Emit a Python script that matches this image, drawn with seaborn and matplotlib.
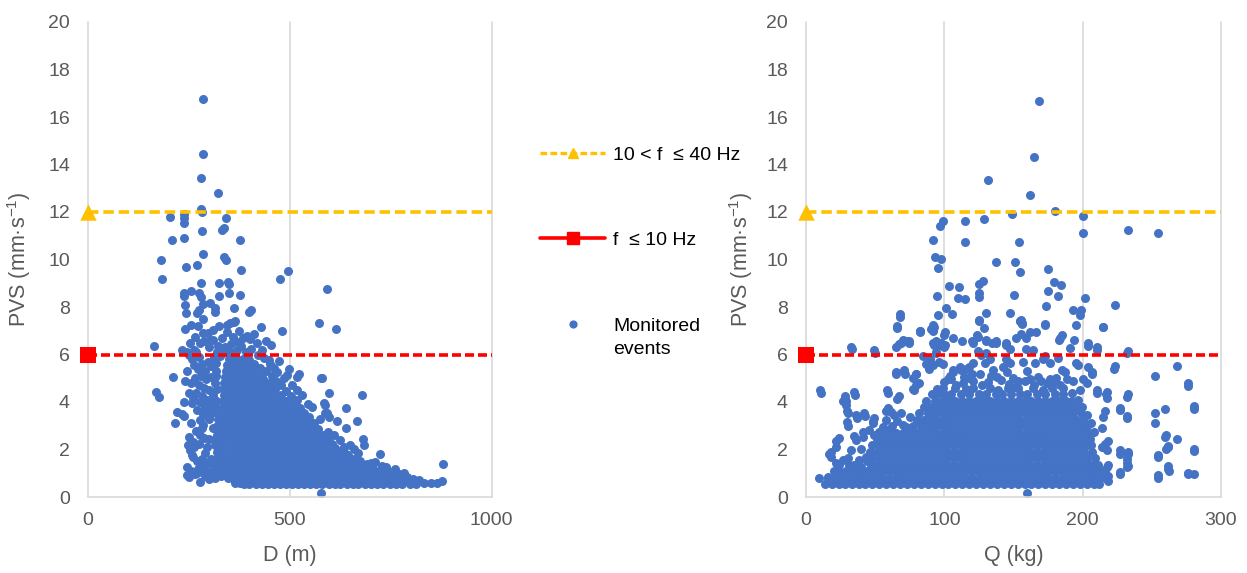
import matplotlib
matplotlib.use("Agg")
import matplotlib.pyplot as plt
from matplotlib.lines import Line2D
import numpy as np
import pandas as pd
import seaborn as sns

# ---------------------------------------------------------------------------
# Monitored blast events: distance D (m) and charge Q (kg) against PVS (mm/s)
# ---------------------------------------------------------------------------

# isolated events, distance panel (D, PVS)
dist_upper = [
    (286, 16.75), (285, 14.43), (281, 13.42), (323, 12.81), (281, 12.11), (282, 12.01),
    (204, 11.8), (239, 11.92), (239, 11.73), (239, 11.52), (343, 11.73), (332, 11.24),
    (336, 11.34), (282, 11.2), (208, 10.82), (238, 10.92), (376, 10.82), (286, 10.22),
    (336, 10.12), (342, 10.0), (181, 9.98), (243, 9.7), (270, 9.75), (380, 9.56),
    (496, 9.53), (183, 9.16), (475, 9.18), (280, 9.0), (324, 9.0), (347, 9.07),
    (350, 8.97), (591, 8.77), (256, 8.69), (239, 8.57), (239, 8.46), (276, 8.6),
    (281, 8.43), (349, 8.6), (377, 8.52), (324, 8.46), (286, 8.13), (303, 8.18),
    (240, 8.07), (315, 7.96), (315, 7.8), (362, 7.96), (274, 7.87), (270, 7.73),
    (243, 7.76), (399, 7.8), (405, 7.87), (571, 7.34), (615, 7.06), (429, 7.14),
    (481, 7.0), (286, 7.48), (256, 7.23), (273, 7.2), (324, 7.21), (344, 7.24),
    (352, 7.31), (361, 7.38), (241, 7.06), (365, 7.4), (286, 6.9), (394, 6.8),
    (164, 6.35), (253, 6.47), (278, 6.47), (303, 6.6), (332, 6.68), (371, 6.54),
    (402, 6.64), (419, 6.47), (453, 6.4), (245, 6.1), (262, 6.19), (319, 6.12),
    (352, 6.12),
]

dist_mid = [
    (452, 5.6), (472, 5.74), (497, 5.41), (420, 5.34), (468, 5.27), (493, 5.13),
    (518, 5.06), (522, 5.2), (577, 4.99), (210, 5.04), (169, 4.43), (175, 4.22),
    (518, 4.5), (518, 4.08), (555, 3.8), (584, 3.94), (592, 3.52), (220, 3.59),
    (237, 3.41), (216, 3.13), (257, 3.97), (270, 3.66), (290, 3.73), (299, 3.38),
    (278, 3.24), (282, 2.89), (278, 2.61), (249, 2.54), (261, 2.33), (295, 2.12),
    (252, 1.97), (261, 1.69), (278, 1.41), (286, 1.2), (303, 1.06), (245, 0.92),
    (249, 0.85), (278, 0.64), (319, 1.2), (348, 0.99), (361, 0.71), (377, 0.57),
    (402, 0.64), (578, 0.15),
    (250, 6.0), (258, 5.8), (268, 6.1), (276, 5.9), (262, 5.55), (272, 5.4),
    (283, 5.6), (290, 5.3), (297, 5.7), (305, 5.5), (312, 5.9), (318, 5.3),
    (280, 5.1), (293, 4.95), (305, 5.05), (315, 4.8), (265, 5.0), (255, 4.8),
    (274, 4.7), (287, 4.6), (300, 4.5), (310, 4.3), (320, 4.55), (268, 4.4),
    (282, 4.25), (295, 4.1), (305, 3.95), (318, 4.05), (260, 4.15), (290, 3.8),
    (312, 3.6), (300, 3.3), (322, 3.3), (285, 3.05), (310, 2.9), (320, 2.6),
    (300, 2.45), (315, 2.2), (290, 1.85), (305, 1.6), (320, 1.9), (312, 1.35),
    (296, 1.4), (283, 1.6), (270, 1.5), (258, 1.75), (262, 2.1), (275, 2.25),
    (288, 2.5), (268, 2.8), (255, 3.1), (285, 3.5), (298, 3.65), (278, 4.0),
    (300, 6.3), (288, 6.55), (310, 6.6), (322, 6.35), (328, 5.95), (298, 6.9),
    (310, 7.05), (266, 6.75), (233, 6.2), (244, 5.3), (240, 4.9), (250, 4.4),
    (238, 4.0), (232, 3.5), (247, 2.2), (244, 1.25), (255, 1.1), (265, 0.95),
    (272, 1.2), (290, 0.9), (300, 0.75), (315, 0.8), (330, 0.9), (325, 1.3),
    (270, 1.0), (340, 6.3), (355, 6.45), (368, 6.2), (380, 6.35), (392, 6.1),
    (405, 6.25), (420, 6.0), (435, 5.85), (448, 5.75), (430, 6.2), (385, 6.7),
    (360, 6.75), (345, 6.95), (375, 7.0), (410, 6.85), (440, 6.55), (398, 5.75),
    (412, 5.6), (425, 5.45), (440, 5.3), (455, 5.1), (465, 4.9), (478, 4.7),
    (490, 4.45), (502, 4.25), (512, 3.95), (525, 3.75), (535, 3.55), (548, 3.35),
    (560, 3.1), (570, 2.85), (582, 2.6), (595, 2.4), (605, 2.25), (618, 1.95),
    (630, 1.8), (645, 1.75), (660, 1.6), (675, 1.5), (690, 1.25), (705, 1.2),
    (720, 1.1), (735, 1.0), (752, 0.9), (770, 0.95), (790, 0.85), (805, 0.75),
    (820, 0.7), (760, 1.2), (700, 1.45), (668, 1.85), (625, 2.4), (610, 2.6),
    (575, 3.3), (545, 3.9), (530, 4.3), (505, 4.7), (485, 5.0), (460, 5.45),
    (470, 3.95), (365, 0.6), (372, 0.75), (318, 5.65), (316, 5.1), (314, 4.1),
    (317, 3.75), (319, 3.0), (316, 2.45), (318, 1.6), (322, 0.95), (336, 6.1),
    (362, 5.95), (395, 5.35), (433, 4.95), (447, 4.45), (462, 4.6), (488, 4.05),
    (499, 3.7), (514, 3.45), (528, 3.2), (541, 2.95), (556, 2.75), (563, 2.45),
    (592, 2.05), (603, 1.9), (618, 1.65), (650, 1.4), (663, 1.25), (680, 1.15),
    (697, 0.95), (715, 0.85), (728, 1.3), (745, 0.7), (758, 0.65), (776, 0.72),
]

dist_tail = [
    (580, 4.99), (597, 4.36), (678, 4.29), (588, 3.87), (588, 3.52), (597, 3.38),
    (640, 3.76), (616, 3.2), (667, 3.21), (640, 2.92), (594, 2.72), (681, 2.44),
    (683, 2.18), (634, 2.12), (650, 2.18), (659, 2.04), (723, 1.81), (712, 1.48),
    (690, 1.38), (750, 1.06), (783, 0.99), (789, 0.74), (812, 0.54), (832, 0.6),
    (849, 0.57), (865, 0.57), (878, 0.68), (880, 1.37), (762, 0.85), (774, 0.64),
    (737, 1.27), (741, 0.85),
]

# dense cluster of the distance panel: (PVS, [D, ...])
dist_core = [
    (0.55, [386, 400, 416, 431, 445, 461, 476, 490, 506, 521, 535, 551, 566, 580,
            596, 611, 625, 641, 656, 670, 686, 701, 716, 731, 747, 763, 779, 798]),
    (0.8, [346, 361, 377, 392, 408, 423, 438, 454, 469, 484, 500, 515, 530, 546,
           561, 576, 592, 607, 622, 638, 653, 668, 684, 699, 714, 731, 748, 766, 781]),
    (1.05, [336, 352, 368, 384, 399, 414, 430, 446, 461, 476, 492, 507, 522, 538,
            553, 569, 584, 599, 615, 630, 645, 661, 676, 691, 707, 723, 740]),
    (1.3, [331, 345, 361, 376, 391, 407, 422, 437, 453, 468, 484, 499, 514, 530,
           545, 561, 576, 591, 607, 622, 637, 653, 669, 686, 704]),
    (1.55, [329, 344, 360, 375, 390, 406, 421, 436, 452, 467, 483, 498, 513, 529,
            544, 560, 575, 590, 606, 621, 636, 651, 665]),
    (1.8, [326, 340, 355, 369, 384, 399, 414, 429, 444, 459, 474, 489, 504, 519,
           534, 549, 564, 579, 594, 609, 624, 640]),
    (2.05, [328, 347, 362, 377, 392, 407, 422, 437, 452, 467, 482, 497, 512, 527,
            542, 557, 572, 587, 600, 611]),
    (2.3, [330, 340, 355, 370, 385, 400, 415, 430, 445, 460, 475, 490, 505, 520,
           535, 550, 565, 580, 594]),
    (2.55, [331, 347, 362, 377, 392, 407, 422, 437, 452, 467, 482, 497, 512, 527,
            542, 557, 570, 580]),
    (2.8, [330, 340, 355, 370, 385, 400, 415, 430, 445, 460, 475, 490, 505, 520,
           535, 550, 567]),
    (3.05, [331, 347, 362, 377, 392, 407, 422, 437, 452, 467, 482, 497, 512, 527,
            541, 555]),
    (3.3, [332, 340, 355, 370, 385, 400, 415, 430, 445, 460, 475, 490, 505, 520, 539]),
    (3.55, [333, 347, 362, 377, 392, 407, 422, 437, 452, 467, 482, 497, 511, 524]),
    (3.8, [334, 340, 355, 370, 385, 400, 415, 430, 445, 460, 475, 490, 509]),
    (4.05, [335, 348, 363, 378, 393, 408, 423, 438, 453, 468, 482, 494]),
    (4.3, [336, 341, 356, 371, 386, 401, 416, 431, 446, 461, 479]),
    (4.55, [337, 349, 364, 379, 394, 409, 424, 439, 452, 464]),
    (4.8, [338, 343, 358, 373, 388, 403, 418, 433, 449]),
    (5.05, [340, 351, 366, 381, 396, 411, 428]),
    (5.3, [342, 358, 373, 388, 403, 414]),
    (5.55, [345, 360, 375, 390, 399]),
    (5.8, [350, 367, 384]),
]

# isolated events, charge panel (Q, PVS)
charge_upper = [
    (168.2, 16.66), (165.1, 14.33), (131.8, 13.35), (162.1, 12.73), (148.7, 11.92),
    (180.0, 12.03), (200.0, 11.83), (200.0, 11.13), (232.6, 11.23), (254.5, 11.13),
    (99.0, 11.63), (96.6, 11.42), (114.7, 11.63), (128.9, 11.7), (92.1, 10.82),
    (115.2, 10.72), (154.0, 10.72), (93.5, 10.12), (97.6, 10.02), (95.4, 9.66),
    (137.6, 9.91), (151.1, 9.89), (154.9, 9.46), (175.2, 9.58), (179.0, 9.07),
    (184.1, 8.91), (103.6, 8.9), (110.4, 8.86), (125.1, 8.97), (127.7, 9.08),
    (125.1, 8.6), (125.1, 8.42), (175.2, 8.67), (181.9, 8.45), (150.2, 8.5),
    (94.5, 8.48), (110.2, 8.36), (115.2, 8.32), (201.5, 8.36), (223.2, 8.08),
    (101.5, 7.96), (105.3, 7.69), (95.4, 7.65), (67.7, 7.59), (173.5, 8.03),
    (192.8, 7.86), (199.1, 7.86), (198.1, 7.68), (147.2, 7.76), (129.9, 7.76),
    (125.1, 7.4), (154.9, 7.4), (156.1, 7.27), (172.5, 7.26), (195.2, 7.24),
    (214.7, 7.14), (66.0, 7.13), (82.2, 7.0), (92.3, 7.14), (128.4, 7.1),
]

charge_mid = [
    (10.9, 4.39), (33.0, 6.23), (50.1, 6.07), (65.1, 5.18), (71.5, 5.2), (59.1, 4.39),
    (28.9, 3.87), (30.1, 3.52), (28.5, 4.12), (35.2, 4.29), (36.7, 3.31), (42.9, 3.41),
    (30.3, 3.01), (21.7, 2.12), (18.1, 1.69), (9.7, 0.82), (15.7, 0.85), (67.5, 6.44),
    (72.3, 6.58), (74.7, 6.47), (82.7, 6.93), (91.6, 7.0), (100.0, 6.82), (92.8, 6.4),
    (97.6, 6.5), (100.0, 6.3), (94.0, 6.05), (96.4, 5.7), (120.5, 6.47), (124.1, 6.72),
    (130.1, 6.58), (137.3, 6.47), (144.5, 6.4), (125.3, 7.45), (79.5, 5.18), (81.9, 4.78),
    (78.3, 4.5), (86.7, 5.62), (89.1, 5.41), (98.8, 5.62), (106.0, 5.34), (112.0, 5.34),
    (118.1, 5.48), (114.5, 5.06), (59.1, 3.73), (63.8, 3.45), (57.8, 3.24), (55.4, 2.96),
    (60.3, 2.82), (48.2, 3.1), (45.7, 2.82), (49.4, 2.61), (41.0, 2.54), (36.2, 2.4),
    (39.7, 2.04), (43.4, 1.69), (38.5, 1.55), (32.5, 1.97),
    (106.2, 6.7), (113.0, 6.55), (120.0, 6.55), (123.6, 6.81), (130.0, 6.63),
    (134.5, 6.48), (137.0, 6.58), (124.3, 6.13), (126.7, 6.0), (130.4, 6.06),
    (132.8, 5.79), (120.7, 5.64), (129.1, 5.64), (135.2, 5.33), (125.5, 5.18),
    (106.2, 5.25), (111.0, 5.48), (115.9, 5.4), (105.0, 4.95), (108.6, 4.72),
    (142.4, 5.48), (144.8, 5.79), (147.3, 5.64), (149.7, 5.02), (153.3, 4.87),
    (144.8, 6.48), (147.3, 6.25), (152.0, 6.7), (155.7, 6.86), (159.3, 6.7),
    (161.7, 6.94), (155.7, 7.47), (155.0, 7.4), (166.6, 6.94), (159.3, 6.25),
    (164.2, 6.17), (165.4, 5.64), (171.4, 5.79), (172.6, 5.94), (176.2, 5.64),
    (170.2, 4.87), (176.2, 4.95), (181.0, 5.02), (183.5, 4.72), (182.3, 5.87),
    (184.7, 5.33), (187.1, 5.25), (193.1, 4.87), (195.5, 5.64), (200.4, 4.95),
    (202.8, 4.79), (198.0, 4.49), (204.0, 6.48), (210.0, 6.32), (206.4, 5.25),
    (210.0, 4.49), (10.4, 4.49), (32.6, 6.32), (49.5, 6.17), (65.9, 7.2),
    (67.6, 7.7), (65.2, 6.32), (68.8, 6.48), (70.0, 6.6), (74.8, 6.55),
    (64.7, 5.25), (71.2, 5.33), (58.7, 4.49), (66.9, 4.26), (65.7, 4.13),
    (82.1, 7.01), (84.5, 5.94), (90.5, 7.09), (91.7, 7.24), (100.2, 6.94),
    (91.7, 6.48), (94.1, 6.55), (96.6, 6.4), (100.2, 6.4), (94.1, 6.1),
    (89.3, 5.79), (91.7, 5.56), (79.7, 5.18), (77.2, 5.02), (79.7, 4.72),
    (77.7, 4.56), (28.5, 4.26), (29.0, 4.03), (29.5, 3.64), (26.6, 4.03),
    (35.0, 4.44), (36.2, 3.46), (42.2, 3.54), (29.7, 3.14), (41.0, 2.73),
    (35.0, 2.57), (24.1, 2.5), (21.7, 2.34), (18.1, 1.88), (16.9, 1.81),
    (48.3, 3.19), (49.5, 3.34), (57.9, 3.64), (61.6, 3.57), (35.0, 1.35),
    (40.0, 1.25), (44.0, 1.5), (37.0, 1.1), (27.0, 1.55), (22.0, 1.45),
    (70.0, 3.05), (66.0, 3.2), (72.0, 2.95), (104.0, 5.1), (118.0, 5.0),
    (138.0, 5.05), (160.0, 5.3), (168.0, 5.05), (189.0, 4.95), (157.0, 5.7),
    (99.5, 4.85), (113.5, 4.78), (121.0, 4.9), (131.5, 4.83), (141.0, 4.92),
    (147.0, 4.75), (158.5, 4.88), (165.0, 4.7), (174.0, 4.78), (186.0, 4.6),
    (192.0, 4.4), (196.5, 4.1), (199.5, 3.8), (203.0, 3.45), (206.0, 3.1),
    (208.0, 2.75), (75.0, 3.35), (69.0, 3.55), (62.0, 3.0), (53.0, 2.75),
    (103.0, 4.98), (116.0, 4.55), (127.0, 4.72), (139.0, 4.5), (151.0, 4.62),
    (162.0, 4.95), (171.0, 4.5), (179.0, 4.85), (95.0, 4.55), (134.0, 5.1),
    (145.0, 5.25), (120.0, 5.2),
]

charge_edge = [
    (215.0, 7.17), (172.8, 7.28), (155.9, 7.31), (184.8, 6.82), (183.7, 6.68),
    (183.2, 6.61), (204.1, 6.35), (210.1, 6.21), (232.4, 6.07), (193.7, 6.61),
    (190.9, 6.26), (196.9, 5.55), (204.1, 5.48), (207.0, 5.18), (222.9, 5.4),
    (252.3, 5.09), (268.4, 5.51), (275.9, 4.67), (210.1, 4.39), (216.9, 4.33),
    (217.8, 4.15), (232.4, 4.22), (252.3, 3.55), (259.5, 3.7), (280.8, 3.72),
    (227.0, 3.66), (231.9, 3.41), (232.4, 3.31), (252.3, 3.1), (216.2, 3.63),
    (215.0, 3.38), (214.3, 2.89), (259.5, 2.51), (268.4, 2.44), (260.2, 2.04),
    (262.0, 2.09), (280.8, 1.93), (254.7, 1.67), (227.0, 1.83), (233.1, 1.79),
    (231.9, 1.44), (232.4, 1.27), (227.0, 0.96), (262.0, 1.2), (262.4, 1.1),
    (254.7, 0.82), (275.9, 1.02), (276.4, 0.96), (280.8, 0.95), (218.1, 0.68),
    (210.1, 0.61), (205.3, 0.81), (216.2, 1.06), (217.8, 1.27), (216.2, 2.23),
    (214.3, 2.12), (217.8, 2.0), (160.0, 0.15), (217.3, 4.41), (223.3, 5.51),
    (232.5, 6.14), (232.5, 4.32), (227.0, 3.75), (276.4, 4.78), (280.5, 3.83),
    (260.0, 2.63), (261.5, 2.14), (254.7, 1.78), (262.0, 1.3), (254.7, 0.93),
    (280.5, 2.04), (227.0, 1.96), (227.0, 1.07), (232.7, 1.91), (232.2, 1.58),
    (232.7, 1.3), (218.0, 2.34), (218.5, 1.35), (218.0, 0.89), (210.0, 0.74),
    (208.8, 1.19),
]

# dense cluster of the charge panel: (PVS, [Q, ...])
charge_core = [
    (0.55, [14, 19, 24, 28, 33, 38, 43, 48, 53, 58, 63, 68, 73, 78, 83, 88, 93, 98,
            103, 108, 113, 118, 123, 128, 133, 138, 143, 148, 153, 158, 163, 168,
            173, 178, 183, 188, 193, 198, 203, 208, 212]),
    (0.82, [16, 21, 26, 31, 36, 41, 46, 51, 56, 61, 66, 71, 76, 81, 86, 91, 96, 101,
            106, 111, 116, 121, 126, 131, 136, 141, 146, 151, 156, 161, 166, 171,
            176, 181, 186, 191, 196, 201, 206, 211, 216]),
    (1.09, [20, 24, 29, 34, 39, 44, 49, 54, 59, 64, 69, 74, 79, 84, 89, 94, 99, 104,
            109, 114, 119, 124, 129, 134, 139, 144, 149, 154, 159, 164, 169, 174,
            179, 184, 189, 194, 199, 204, 209, 214]),
    (1.36, [24, 31, 47, 51, 56, 61, 66, 71, 76, 81, 86, 91, 96, 101, 106, 111, 116,
            121, 126, 131, 136, 141, 146, 151, 156, 161, 166, 171, 176, 181, 186,
            191, 196, 201, 206, 211]),
    (1.63, [30, 48, 53, 58, 63, 68, 73, 78, 83, 88, 93, 98, 103, 108, 113, 118, 123,
            128, 133, 138, 143, 148, 153, 158, 163, 168, 173, 178, 183, 188, 193,
            198, 203, 209]),
    (1.9, [46, 51, 56, 61, 66, 71, 76, 81, 86, 91, 96, 101, 106, 111, 116, 121, 126,
           131, 136, 141, 146, 151, 156, 161, 166, 171, 176, 181, 186, 191, 196,
           201, 207]),
    (2.17, [48, 53, 58, 63, 68, 73, 78, 83, 88, 93, 98, 103, 108, 113, 118, 123, 128,
            133, 138, 143, 148, 153, 158, 163, 168, 173, 178, 183, 188, 193, 198,
            203, 206]),
    (2.44, [51, 56, 61, 66, 71, 76, 81, 86, 91, 96, 101, 106, 111, 116, 121, 126, 131,
            136, 141, 146, 151, 156, 161, 166, 171, 176, 181, 186, 191, 196, 201, 205]),
    (2.71, [55, 60, 65, 70, 75, 80, 85, 90, 95, 100, 105, 110, 115, 120, 125, 130, 135,
            140, 145, 150, 155, 160, 165, 170, 175, 180, 185, 190, 195, 200, 204]),
    (2.98, [77, 83, 88, 93, 98, 103, 108, 113, 118, 123, 128, 133, 138, 143, 148, 153,
            158, 163, 168, 173, 178, 183, 188, 193, 198, 203]),
    (3.25, [80, 85, 90, 95, 100, 105, 110, 115, 120, 125, 130, 135, 140, 145, 150, 155,
            160, 165, 170, 175, 180, 185, 190, 195, 200]),
    (3.52, [82, 88, 93, 98, 103, 108, 113, 118, 123, 128, 133, 138, 143, 148, 153, 158,
            163, 168, 173, 178, 183, 188, 193, 199]),
    (3.79, [85, 90, 95, 100, 105, 110, 115, 120, 125, 130, 135, 140, 145, 150, 155, 160,
            165, 170, 175, 180, 185, 190, 196]),
    (4.06, [87, 93, 98, 103, 108, 113, 118, 123, 128, 133, 138, 143, 148, 153, 158, 163,
            168, 173, 178, 183, 188, 192]),
    (4.33, [91, 95, 100, 105, 112, 118, 125, 130, 137, 142, 148, 155, 160, 167, 173,
            180, 186]),
    (4.6, [99, 108, 121, 133, 146, 153, 164, 178]),
]

# vibration limits
limit_values = [12, 6]
limit_labels = ["10 < f  \u2264 40 Hz", "f  \u2264 10 Hz"]
limit_colors = ["#FFC000", "#FF0000"]
limit_markers = ["^", "s"]
limit_dashes = [(2.9, 1.35), (2.5, 1.1)]

y_ticks = list(range(0, 21, 2))
d_ticks = [0, 500, 1000]
q_ticks = [0, 100, 200, 300]

POINT_BLUE = "#4472C4"
GRID_GREY = "#D9D9D9"
TEXT_GREY = "#595959"


def to_frame(xname, pairs, rows):
    xs = [p[0] for p in pairs] + [x for pv, row in rows for x in row]
    ys = [p[1] for p in pairs] + [pv for pv, row in rows for _ in row]
    return pd.DataFrame({xname: xs, "PVS": ys})


dist_df = to_frame("D", dist_upper + dist_mid + dist_tail, dist_core)
charge_df = to_frame("Q", charge_upper + charge_mid + charge_edge, charge_core)

sns.set_theme(style="white")
plt.rcParams["font.family"] = ["Liberation Sans", "DejaVu Sans"]
plt.rcParams["mathtext.default"] = "regular"

W, H = 1247, 573
fig = plt.figure(figsize=(W / 100, H / 100), dpi=100)
ax_d = fig.add_axes([88 / W, 76 / H, 403.7 / W, 475 / H])
ax_q = fig.add_axes([806 / W, 76 / H, 415 / W, 475 / H])


def draw_panel(ax, df, xcol, xticks, xlabel, ylab_x):
    xmax = xticks[-1]
    ax.set_axisbelow(True)
    sns.scatterplot(data=df, x=xcol, y="PVS", ax=ax, color=POINT_BLUE, s=42,
                    linewidth=0, alpha=1, zorder=2, legend=False)
    for val, col, mk, dsh in zip(limit_values, limit_colors, limit_markers, limit_dashes):
        sns.lineplot(x=[0, xmax], y=[val, val], ax=ax, color=col, lw=2.6,
                     zorder=3, legend=False)
        ax.lines[-1].set_dashes(dsh)
        ax.lines[-1].set_clip_on(False)
        sns.scatterplot(x=[0], y=[val], ax=ax, marker=mk, s=140, color=col,
                        linewidth=0, zorder=4, clip_on=False, legend=False)
    ax.set_xlim(0, xmax)
    ax.set_ylim(0, 20)
    ax.set_xticks(xticks)
    ax.set_yticks(y_ticks)
    ax.grid(axis="x", color=GRID_GREY, lw=1.2)
    ax.grid(axis="y", visible=False)
    for gl in ax.get_xgridlines():
        gl.set_clip_on(False)
    for side in ["left", "top", "right"]:
        ax.spines[side].set_visible(False)
    ax.spines["bottom"].set_color(GRID_GREY)
    ax.spines["bottom"].set_linewidth(1.2)
    ax.tick_params(axis="both", length=0, labelsize=14, labelcolor=TEXT_GREY)
    ax.tick_params(axis="y", pad=13)
    ax.tick_params(axis="x", pad=10.5)
    ax.set_xlabel(xlabel, fontsize=15.5, color=TEXT_GREY)
    ax.set_ylabel("PVS (mm\u00b7s$^{-1}$)", fontsize=15.5, color=TEXT_GREY)
    ax.xaxis.set_label_coords(0.5, -0.1)
    ax.yaxis.set_label_coords(ylab_x, 0.5)


draw_panel(ax_d, dist_df, "D", d_ticks, "D (m)", -0.136)
draw_panel(ax_q, charge_df, "Q", q_ticks, "Q (kg)", -0.123)

# legend entries placed in the gap between the panels
legend_handles = [
    Line2D([], [], color=limit_colors[0], lw=2.4, dashes=(2.0, 1.0),
           marker="^", markersize=7.5),
    Line2D([], [], color=limit_colors[1], lw=2.6, marker="s", markersize=8.4),
    Line2D([], [], color=POINT_BLUE, ls="none", marker="o", markersize=4.9),
]
legend_texts = limit_labels + ["Monitored"]
legend_y = [155, 240, 326]
for hnd, txt, yy in zip(legend_handles, legend_texts, legend_y):
    fig.legend(handles=[hnd], labels=[txt], loc="center left",
               bbox_to_anchor=(540 / W, 1 - yy / H), frameon=False,
               fontsize=14, handlelength=3.35, handletextpad=0.41,
               borderpad=0, borderaxespad=0, labelcolor="#000000")
# second line of the scatter entry's label
fig.text(613 / W, 1 - 350 / H, "events", fontsize=14, color="#000000",
         ha="left", va="center")

fig.savefig("out.png", dpi=100)
